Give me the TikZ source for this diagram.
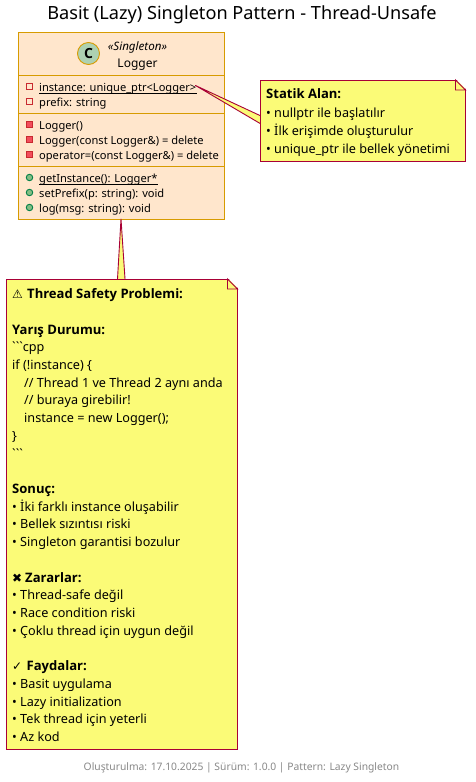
\documentclass[tikz,border=0pt]{standalone}
\usepackage{fontspec}
\setmainfont{Noto Sans}
\newfontfamily\boldfam{Open Sans}
\newfontfamily\rawfam{Noto Sans}
\newcommand{\bt}[1]{{\boldfam\bfseries\fontsize{13.05}{17.72}\selectfont #1}}
\newcommand{\sym}[2]{\makebox[#1][l]{\symfont\fontsize{12}{12}\selectfont #2}}
\newfontfamily\symfont{DejaVu Sans}
\definecolor{classfill}{HTML}{FFE6CC}
\definecolor{classline}{HTML}{D79B00}
\definecolor{notefill}{HTML}{FBFB77}
\definecolor{noteline}{HTML}{A80036}
\definecolor{spotfill}{HTML}{ADD1B2}
\definecolor{privline}{HTML}{C82930}
\definecolor{privfill}{HTML}{F24D5C}
\definecolor{publine}{HTML}{038048}
\definecolor{pubfill}{HTML}{84BE84}
\definecolor{footer}{HTML}{888888}
\tikzset{
  x=1pt,y=-1pt,
  classbox/.style={draw=classline,fill=classfill,line width=1pt,minimum width=206pt,minimum height=187pt,anchor=north west,inner sep=0pt,outer sep=0pt},
  sepline/.style={draw=classline,line width=1pt},
  notebox/.style={draw=noteline,fill=notefill,line width=0.9pt,anchor=north west,inner sep=0pt,outer sep=0pt},
  wedge/.style={draw=noteline,fill=notefill,line width=0.9pt,line join=round},
  fold/.style={draw=noteline,line width=0.9pt},
  member/.style={anchor=base west,inner sep=0pt,font=\fontsize{11.1}{13}\selectfont},
  staticline/.style={draw=black,line width=0.6pt},
  privbox/.style={draw=privline,line width=0.9pt,minimum size=6pt,inner sep=0pt},
  privsolid/.style={draw=privline,fill=privfill,line width=0.9pt,minimum size=6pt,inner sep=0pt},
  pubdot/.style={circle,draw=publine,fill=pubfill,line width=0.9pt,minimum size=6.5pt,inner sep=0pt},
}
\begin{document}
\begin{tikzpicture}
\useasboundingbox (0,0) rectangle (476,782);
\fill[white] (0,0) rectangle (476,782);
\node[anchor=base,inner sep=0pt,font=\fontsize{18.15}{20}\selectfont] (title) at (242,19) {Basit (Lazy) Singleton Pattern - Thread-Unsafe};
\node[classbox] (logger) at (18,32) {};
\coordinate (tipA) at (195.5,85.5);
\coordinate (tipB) at (121,219);
\node[notebox,minimum width=205pt,minimum height=81pt] (noteA) at (260.5,80) {};
\node[notebox,minimum width=231pt,minimum height=470pt] (noteB) at (6.5,279) {};
\draw[wedge] (261,116) -- (tipA) -- (261,124);
\draw[wedge] (117.5,279) -- (tipB) -- (125,279);
\fill[notefill] (261.0,115) rectangle (263,125);
\fill[notefill] (116.5,279.5) rectangle (126,280.5);
\draw[noteline,line width=0.9pt] (260.5,115) -- (260.5,125);
\draw[noteline,line width=0.9pt] (116,279) -- (126,279);
% class compartments
\draw[sepline] (18,75) -- (224,75);
\draw[sepline] (18,113) -- (224,113);
\draw[sepline] (18,166) -- (224,166);
\node[circle,draw=classline,fill=spotfill,line width=0.9pt,minimum size=22pt,inner sep=0pt,font=\boldfam\bfseries\fontsize{14}{14}\selectfont] (spot) at (88.5,53.5) {C};
\node[anchor=base,inner sep=0pt,font=\itshape\fontsize{11.6}{12}\selectfont] (stereo) at (137.5,50) {«Singleton»};
\node[anchor=base,inner sep=0pt,font=\fontsize{12}{14}\selectfont] (cname) at (137.5,67) {Logger};
\node[privbox] (m1) at (29.5,86.5) {};
\node[member] (t1) at (39,91) {instance: unique\_ptr<Logger>};
\draw[staticline] ([yshift=-2.3pt]t1.base west) -- ([yshift=-2.3pt]t1.base east);
\node[privbox] (m2) at (29.5,101.5) {};
\node[member] (t2) at (39,106) {prefix: string};
\node[privsolid] (m3) at (29.5,124) {};
\node[member] (t3) at (39,129) {Logger()};
\node[privsolid] (m4) at (29.5,139.5) {};
\node[member] (t4) at (39,144) {Logger(const Logger\&) = delete};
\node[privsolid] (m5) at (29.5,154.5) {};
\node[member] (t5) at (39,159) {operator=(const Logger\&) = delete};
\node[pubdot] (m6) at (29.5,177.5) {};
\node[member] (t6) at (39,182) {getInstance(): Logger*};
\draw[staticline] ([yshift=-2.3pt]t6.base west) -- ([yshift=-2.3pt]t6.base east);
\node[pubdot] (m7) at (29.5,192.5) {};
\node[member] (t7) at (39,197) {setPrefix(p: string): void};
\node[pubdot] (m8) at (29.5,207.5) {};
\node[member] (t8) at (39,212) {log(msg: string): void};
% note folds
\fill[white] (455.9,79) -- (466.5,79) -- (466.5,89.6) -- cycle;
\draw[fold] (455.5,80) -- (455.5,90) -- (465.5,90) -- cycle;
\fill[white] (227.9,278) -- (238.5,278) -- (238.5,288.6) -- cycle;
\draw[fold] (227.5,279) -- (227.5,289) -- (237.5,289) -- cycle;
% note texts
\node[anchor=north west,inner sep=0pt,align=left,font=\fontsize{12.65}{18.3}\selectfont] (textA) at (266,88.8) {%
\bt{Statik Alan:}\\
• nullptr ile başlatılır\\
• İlk erişimde oluşturulur\\
• unique\_ptr ile bellek yönetimi};
\node[anchor=north west,inner sep=0pt,align=left,font=\fontsize{12.65}{17.72}\selectfont] (textB) at (12,288.4) {%
\sym{15pt}{⚠}\bt{Thread Safety Problemi:}\\
\mbox{}\\
\bt{Yarış Durumu:}\\
{\rawfam ```cpp}\\
if (!instance) \{\\
\hspace*{12pt}// Thread 1 ve Thread 2 aynı anda\\
\hspace*{12pt}// buraya girebilir!\\
\hspace*{12pt}instance = new Logger();\\
\}\\
{\rawfam ```}\\
\mbox{}\\
\bt{Sonuç:}\\
• İki farklı instance oluşabilir\\
• Bellek sızıntısı riski\\
• Singleton garantisi bozulur\\
\mbox{}\\
\sym{13pt}{✖}\bt{Zararlar:}\\
• Thread-safe değil\\
• Race condition riski\\
• Çoklu thread için uygun değil\\
\mbox{}\\
\sym{14.5pt}{✓}\bt{Faydalar:}\\
• Basit uygulama\\
• Lazy initialization\\
• Tek thread için yeterli\\
• Az kod};
\node[anchor=base,inner sep=0pt,text=footer,font=\fontsize{10.3}{12}\selectfont] (foot) at (241.5,770) {Oluşturulma: 17.10.2025 | Sürüm: 1.0.0 | Pattern: Lazy Singleton};
\end{tikzpicture}
\end{document}
